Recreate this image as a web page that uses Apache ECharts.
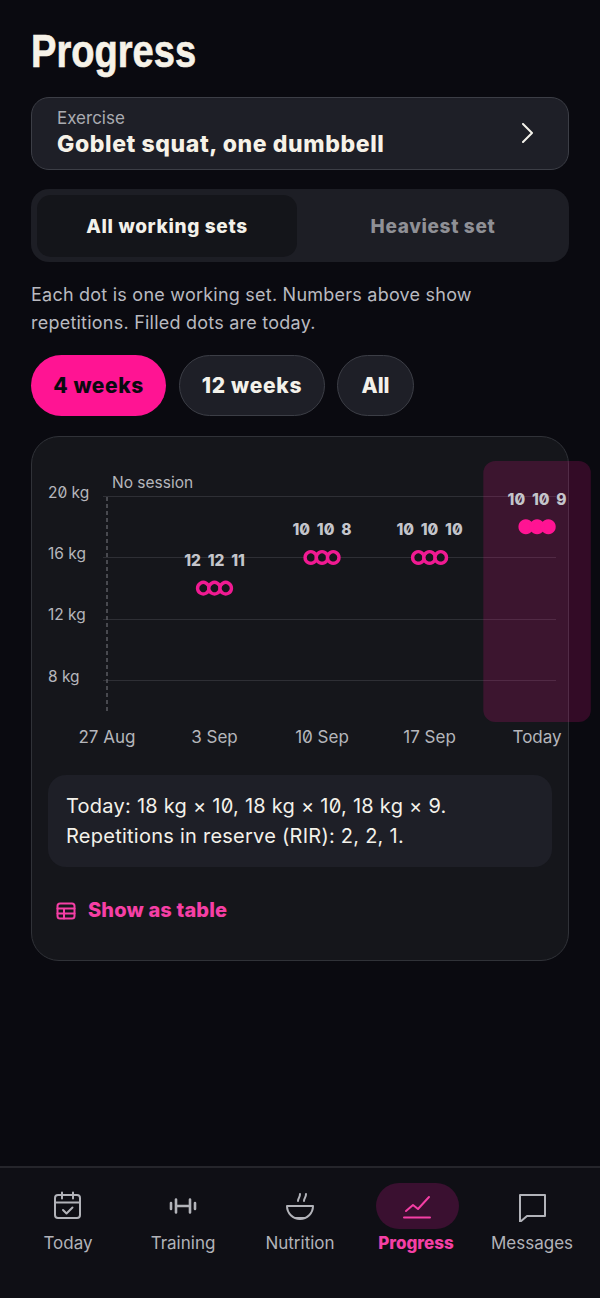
<!DOCTYPE html>
<html>
<head>
<meta charset="utf-8">
<title>Progress</title>
<script src="https://cdn.jsdelivr.net/npm/echarts@6/dist/echarts.min.js"></script>
<style>
html,body{margin:0;padding:0;background:#0a0a10;}
body{width:600px;height:1298px;position:relative;overflow:hidden;font-family:Inter,sans-serif;font-feature-settings:"zero";color:#f3f1ea;}
.a{position:absolute;white-space:nowrap;box-sizing:border-box;}
.c{display:flex;align-items:center;justify-content:center;}
#chart{position:absolute;left:0;top:436px;width:600px;height:320px;font-feature-settings:"zero";}
#chart text{font-feature-settings:"zero";}
.nav{position:absolute;top:1232px;width:116px;margin-left:-58px;text-align:center;font-size:17px;line-height:22px;color:#b2b3b9;}
.ico{position:absolute;fill:none;stroke:#b2b3b9;stroke-width:2;stroke-linecap:round;stroke-linejoin:round;}
</style>
</head>
<body>
<div class="a" style="left:31px;top:23px;font:bold 47px/56px 'Liberation Sans',sans-serif;color:#f6f2e8;transform:scaleX(.81);transform-origin:0 0;-webkit-text-stroke:.7px #f6f2e8;">Progress</div>

<div class="a" style="left:31px;top:97px;width:538px;height:73px;background:#1e1f27;border:1px solid #3c3e46;border-radius:18px;"></div>
<div class="a" style="left:57px;top:108px;font-size:17px;line-height:20px;color:#aaabb1;">Exercise</div>
<div class="a" style="left:57px;top:130px;font-size:23px;line-height:28px;font-weight:800;letter-spacing:.6px;color:#f6f2e8;">Goblet squat, one dumbbell</div>
<svg class="ico" style="left:517px;top:123px;stroke:#f3f1ea;" width="20" height="20" viewBox="0 0 20 20"><path d="M6 1l9 9-9 9"/></svg>

<div class="a" style="left:31px;top:189px;width:538px;height:73px;background:#1d1e25;border-radius:18px;"></div>
<div class="a c" style="left:37px;top:195px;width:260px;height:62px;background:#14151a;border-radius:14px;font-size:19px;font-weight:800;letter-spacing:.65px;">All working sets</div>
<div class="a c" style="left:303px;top:195px;width:260px;height:62px;font-size:19px;font-weight:800;letter-spacing:.65px;color:#8f9096;">Heaviest set</div>

<div class="a" style="left:31px;top:281px;font-size:18px;line-height:28px;letter-spacing:.23px;color:#b9bac0;">Each dot is one working set. Numbers above show<br>repetitions. Filled dots are today.</div>

<div class="a c" style="left:31px;top:355px;width:135px;height:61px;background:#ff1493;border-radius:31px;font-size:21px;font-weight:800;letter-spacing:.55px;color:#0a0a10;">4 weeks</div>
<div class="a c" style="left:179px;top:355px;width:146px;height:61px;background:#1e1f27;border:1px solid #3c3e46;border-radius:31px;font-size:21px;font-weight:800;letter-spacing:.7px;">12 weeks</div>
<div class="a c" style="left:337px;top:355px;width:77px;height:61px;background:#1e1f27;border:1px solid #3c3e46;border-radius:31px;font-size:21px;font-weight:800;">All</div>

<div class="a" style="left:31px;top:436px;width:538px;height:525px;background:#15161b;border:1px solid #303238;border-radius:28px;"></div>
<div id="chart"></div>

<div class="a" style="left:48px;top:775px;width:504px;height:92px;background:#1e1f27;border-radius:18px;"></div>
<div class="a" style="left:66px;top:791px;font-size:20px;line-height:30px;letter-spacing:.25px;color:#f3f1ea;">Today: 18 kg × 10, 18 kg × 10, 18 kg × 9.<br>Repetitions in reserve (RIR): 2, 2, 1.</div>

<svg class="ico" style="left:56px;top:901px;stroke:#f53fa5;" width="20" height="20" viewBox="0 0 20 20"><rect x="1.5" y="2.5" width="17" height="15" rx="2.5"/><path d="M1.5 7.5h17M1.5 12.5h17M8 7.5v10"/></svg>
<div class="a" style="left:88px;top:897px;font-size:20px;line-height:26px;font-weight:800;letter-spacing:.15px;color:#f53fa5;">Show as table</div>

<div class="a" style="left:0;top:1166px;width:600px;height:132px;background:#0f0f15;border-top:2px solid #25252b;"></div>
<div class="a" style="left:376px;top:1183px;width:83px;height:46px;background:#3a1030;border-radius:23px;"></div>

<svg class="ico" style="left:52px;top:1190px;" width="32" height="32" viewBox="0 0 32 32"><rect x="3" y="5" width="25" height="23" rx="3"/><path d="M3 12.5h25M10 2.500v6M21 2.500v6M11 20l3.500 3.500 6-6"/></svg>
<svg class="ico" style="left:167px;top:1190px;stroke-width:2.600;" width="32" height="32" viewBox="0 0 32 32"><path d="M4 13v6M9 9.500v13M23 9.500v13M28 13v6M9 16h14"/></svg>
<svg class="ico" style="left:284px;top:1190px;" width="32" height="32" viewBox="0 0 32 32"><path d="M3 16h26a13 13 0 0 1-26 0zM11 28h10M14 11c0-3 2-3 2-7M20 11c0-3 2-3 2-7"/></svg>
<svg class="ico" style="left:401px;top:1190px;stroke:#f53fa5;" width="32" height="32" viewBox="0 0 32 32"><path d="M3 27.500h26M5 21l7-6 5 4 11-12"/></svg>
<svg class="ico" style="left:516px;top:1190px;" width="32" height="32" viewBox="0 0 32 32"><path d="M4 5h25v21H11l-7 6z"/></svg>

<div class="nav" style="left:68px;">Today</div>
<div class="nav" style="left:183px;">Training</div>
<div class="nav" style="left:300px;">Nutrition</div>
<div class="nav" style="left:416px;color:#f53fa5;font-weight:800;">Progress</div>
<div class="nav" style="left:532px;">Messages</div>

<script>
var categories = ['27 Aug', '3 Sep', '10 Sep', '17 Sep', 'Today'];
var weightTicks = [8, 12, 16, 20];
var weights = [null, 14, 16, 16, 18];
var repsSet1 = [null, 12, 10, 10, 10];
var repsSet2 = [null, 12, 10, 10, 10];
var repsSet3 = [null, 11, 8, 10, 9];
var noSessionIndex = 0;
var todayIndex = 4;

var pink = '#ff1493';
var ringPink = '#f01a92';
var labelColor = '#b5b6bc';

function setSeries(reps, setNo) {
    var data = [];
    weights.forEach(function (w, i) {
        if (w === null) return;
        data.push({
            value: [i, w, reps[i]],
            itemStyle: { color: i === todayIndex ? pink : '#15161b', borderColor: i === todayIndex ? pink : ringPink }
        });
    });
    return {
        type: 'scatter',
        data: data,
        z: 5 + setNo,
        symbolSize: 11.5,
        symbolOffset: [(setNo - 1) * 11.2, 0],
        itemStyle: { borderWidth: 3.4, opacity: 1 },
        label: {
            show: setNo === 1,
            position: 'top',
            distance: 12,
            fontFamily: 'Inter',
            fontSize: 15.5,
            fontWeight: 800,
            color: '#c4c5cb',
            formatter: function (p) {
                var i = p.value[0];
                return '' + repsSet1[i] + '  ' + repsSet2[i] + '  ' + repsSet3[i];
            }
        }
    };
}

var chart = echarts.init(document.getElementById('chart'), null, { renderer: 'svg' });
chart.setOption({
    animation: false,
    grid: { left: 103, right: 44, top: 60, bottom: 45 },
    xAxis: {
        type: 'value',
        min: -0.037,
        max: 4.176,
        axisLine: { show: false },
        axisTick: { show: false },
        splitLine: { show: false },
        axisLabel: {
            customValues: categories.map(function (c, i) { return i; }),
            formatter: function (v) { return categories[v]; },
            margin: 17,
            fontFamily: 'Inter',
            fontSize: 17,
            color: labelColor
        }
    },
    yAxis: {
        type: 'value',
        min: 6,
        max: 20,
        axisLine: { show: false },
        axisTick: { show: false, customValues: weightTicks },
        splitLine: { show: true, lineStyle: { color: '#2e2f35', width: 1 } },
        axisLabel: {
            customValues: weightTicks,
            formatter: '{value} kg',
            align: 'left',
            verticalAlign: 'bottom',
            lineHeight: 8,
            margin: 55,
            fontFamily: 'Inter',
            fontSize: 15.5,
            color: labelColor
        }
    },
    series: [
        {
            // today's highlight band
            type: 'custom',
            z: 1,
            clip: false,
            silent: true,
            data: [[todayIndex]],
            renderItem: function (params, api) {
                var c = api.coord([api.value(0), 20]);
                var b = api.coord([api.value(0), 6]);
                var w = api.size([1, 0])[0];
                return {
                    type: 'rect',
                    shape: { x: c[0] - w / 2, y: c[1] - 35, width: w, height: b[1] - c[1] + 46, r: 12 },
                    style: { fill: 'rgba(255,20,147,0.17)' }
                };
            }
        },
        {
            // no session marker
            type: 'scatter',
            data: [],
            markLine: {
                silent: true,
                symbol: 'none',
                animation: false,
                lineStyle: { color: '#5a5b62', type: [4, 3], width: 1.5 },
                label: {
                    show: true,
                    position: 'end',
                    formatter: 'No session',
                    align: 'left',
                    offset: [5, -1],
                    fontFamily: 'Inter',
                    fontSize: 15.5,
                    color: labelColor
                },
                data: [{ xAxis: noSessionIndex }]
            }
        },
        setSeries(repsSet1, 0),
        setSeries(repsSet2, 1),
        setSeries(repsSet3, 2)
    ]
});
</script>
</body>
</html>
